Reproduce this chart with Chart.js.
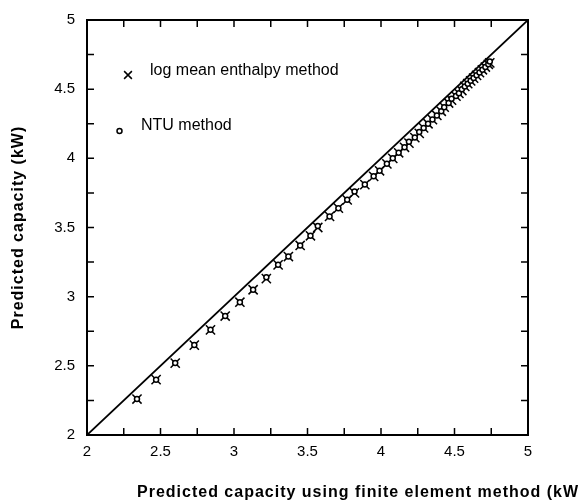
<!DOCTYPE html>
<html>
<head>
<meta charset="utf-8">
<title>Predicted capacity comparison</title>
<script src="https://cdn.jsdelivr.net/npm/chart.js@4.4.1/dist/chart.umd.min.js"></script>
<style>
    html, body { margin: 0; padding: 0; background: #ffffff; }
    #capChart { display: block; }
</style>
</head>
<body>
<canvas id="capChart" width="578" height="502"></canvas>
<script>
//Capacity from the finite element model (x) against the simplified methods (y), kW
const lmedX = [2.34, 2.47, 2.60, 2.73, 2.84, 2.94, 3.04, 3.13, 3.22, 3.30,
               3.37, 3.45, 3.52, 3.57, 3.65, 3.71, 3.77, 3.82, 3.89, 3.95,
               3.99, 4.04, 4.08, 4.12, 4.16, 4.19, 4.23, 4.26, 4.29, 4.32,
               4.35, 4.38, 4.41, 4.43, 4.46, 4.48, 4.51, 4.53, 4.55, 4.57,
               4.59, 4.61, 4.63, 4.65, 4.67, 4.69, 4.71, 4.73, 4.74];
const lmedY = [2.26, 2.40, 2.52, 2.65, 2.76, 2.86, 2.96, 3.05, 3.13, 3.23,
               3.29, 3.37, 3.44, 3.50, 3.58, 3.64, 3.70, 3.75, 3.81, 3.87,
               3.91, 3.96, 4.00, 4.04, 4.08, 4.11, 4.15, 4.18, 4.22, 4.25,
               4.28, 4.31, 4.34, 4.37, 4.40, 4.42, 4.45, 4.47, 4.49, 4.52,
               4.54, 4.56, 4.58, 4.60, 4.62, 4.64, 4.66, 4.68, 4.69];
const ntuX  = [2.34, 2.47, 2.60, 2.73, 2.84, 2.94, 3.04, 3.13, 3.22, 3.30,
               3.37, 3.45, 3.52, 3.57, 3.65, 3.71, 3.77, 3.82, 3.89, 3.95,
               3.99, 4.04, 4.08, 4.12, 4.16, 4.19, 4.23, 4.26, 4.29, 4.32,
               4.35, 4.38, 4.41, 4.43, 4.46, 4.48, 4.51, 4.53, 4.55, 4.57,
               4.59, 4.61, 4.63, 4.65, 4.67, 4.69, 4.71, 4.73, 4.74];
const ntuY  = [2.26, 2.40, 2.52, 2.65, 2.76, 2.86, 2.96, 3.05, 3.14, 3.23,
               3.29, 3.37, 3.44, 3.51, 3.58, 3.64, 3.70, 3.76, 3.81, 3.87,
               3.91, 3.96, 4.00, 4.04, 4.08, 4.12, 4.15, 4.19, 4.22, 4.25,
               4.28, 4.31, 4.34, 4.37, 4.40, 4.43, 4.45, 4.47, 4.50, 4.52,
               4.54, 4.56, 4.58, 4.60, 4.62, 4.64, 4.66, 4.68, 4.70];

//y = x reference line end points
const parityLine = [2, 5];

//Axis ranges and labels
const axisMin = 2;
const axisMax = 5;
const tickLabels = ['2', '2.5', '3', '3.5', '4', '4.5', '5'];
const tickMarks = [2, 2.25, 2.5, 2.75, 3, 3.25, 3.5, 3.75, 4, 4.25, 4.5, 4.75, 5];

const legendLabels = ['log mean enthalpy method', 'NTU method'];
const xTitle = 'Predicted capacity using finite element method (kW)';
const yTitle = 'Predicted capacity (kW)';

const FONT = '"Liberation Sans", Arial, Helvetica, sans-serif';

function toPoints(xs, ys) {
    return xs.map((v, i) => ({x: v, y: ys[i]}));
}

function drawCross(ctx, cx, cy, r) {
    const d = r * Math.SQRT1_2;
    ctx.beginPath();
    ctx.moveTo(cx - d, cy - d); ctx.lineTo(cx + d, cy + d);
    ctx.moveTo(cx + d, cy - d); ctx.lineTo(cx - d, cy + d);
    ctx.stroke();
}

function drawRing(ctx, cx, cy, r) {
    ctx.beginPath();
    ctx.arc(cx, cy, r, 0, Math.PI * 2);
    ctx.fill();
    ctx.stroke();
}

//Boxed frame with inward ticks on every side, tick labels, titles and legend
const frameDecor = {
    id: 'frameDecor',
    afterDraw(chart) {
        const ctx = chart.ctx;
        const a = chart.chartArea;
        const xs = chart.scales.x;
        const ys = chart.scales.y;

        ctx.save();
        ctx.strokeStyle = '#000';
        ctx.fillStyle = '#000';
        ctx.lineWidth = 1.5;
        ctx.beginPath();
        tickMarks.forEach(v => {
            const px = xs.getPixelForValue(v);
            const py = ys.getPixelForValue(v);
            ctx.moveTo(px, a.bottom); ctx.lineTo(px, a.bottom - 7);
            ctx.moveTo(px, a.top); ctx.lineTo(px, a.top + 7);
            ctx.moveTo(a.left, py); ctx.lineTo(a.left + 7, py);
            ctx.moveTo(a.right, py); ctx.lineTo(a.right - 7, py);
        });
        ctx.stroke();

        ctx.lineWidth = 2;
        ctx.strokeRect(a.left, a.top, a.right - a.left, a.bottom - a.top);

        ctx.font = '15px ' + FONT;
        ctx.textAlign = 'center';
        ctx.textBaseline = 'middle';
        tickLabels.forEach(t => {
            ctx.fillText(t, xs.getPixelForValue(parseFloat(t)), a.bottom + 17);
        });
        ctx.textAlign = 'right';
        tickLabels.forEach(t => {
            ctx.fillText(t, a.left - 12, ys.getPixelForValue(parseFloat(t)));
        });

        //axis titles
        ctx.font = 'bold 16px ' + FONT;
        ctx.letterSpacing = '1px';
        ctx.textAlign = 'left';
        ctx.fillText(xTitle, 137, 493);
        ctx.save();
        ctx.translate(19, (a.top + a.bottom) / 2);
        ctx.rotate(-Math.PI / 2);
        ctx.textAlign = 'center';
        ctx.fillText(yTitle, 0, 0);
        ctx.restore();
        ctx.letterSpacing = '0px';

        //legend inside the plot
        ctx.font = '16px ' + FONT;
        ctx.textAlign = 'left';
        ctx.lineWidth = 1.5;
        drawCross(ctx, 128, 75, 5.5);
        ctx.fillText(legendLabels[0], 150, 71);
        ctx.fillStyle = '#fff';
        drawRing(ctx, 119.5, 131, 2.5);
        ctx.fillStyle = '#000';
        ctx.fillText(legendLabels[1], 141, 126);
        ctx.restore();
    }
};

const data = {
    datasets: [{
        label: legendLabels[1],
        data: toPoints(ntuX, ntuY),
        pointStyle: 'circle',
        pointRadius: 2.5,
        borderColor: '#000',
        backgroundColor: '#fff',
        borderWidth: 1.5
    }, {
        label: legendLabels[0],
        data: toPoints(lmedX, lmedY),
        pointStyle: 'crossRot',
        pointRadius: 6.5,
        borderColor: '#000',
        borderWidth: 1.5
    }, {
        label: 'y = x',
        data: toPoints(parityLine, parityLine),
        showLine: true,
        pointRadius: 0,
        borderColor: '#000',
        borderWidth: 1.8,
        fill: false
    }]
};

const config = {
    type: 'scatter',
    data: data,
    options: {
        responsive: false,
        animation: false,
        layout: {
            padding: {left: 87, right: 50, top: 20, bottom: 67}
        },
        scales: {
            x: {type: 'linear', min: axisMin, max: axisMax, display: false},
            y: {type: 'linear', min: axisMin, max: axisMax, display: false}
        },
        plugins: {
            legend: {display: false},
            tooltip: {enabled: false}
        }
    },
    plugins: [frameDecor]
};

new Chart(document.getElementById('capChart'), config);
</script>
</body>
</html>
